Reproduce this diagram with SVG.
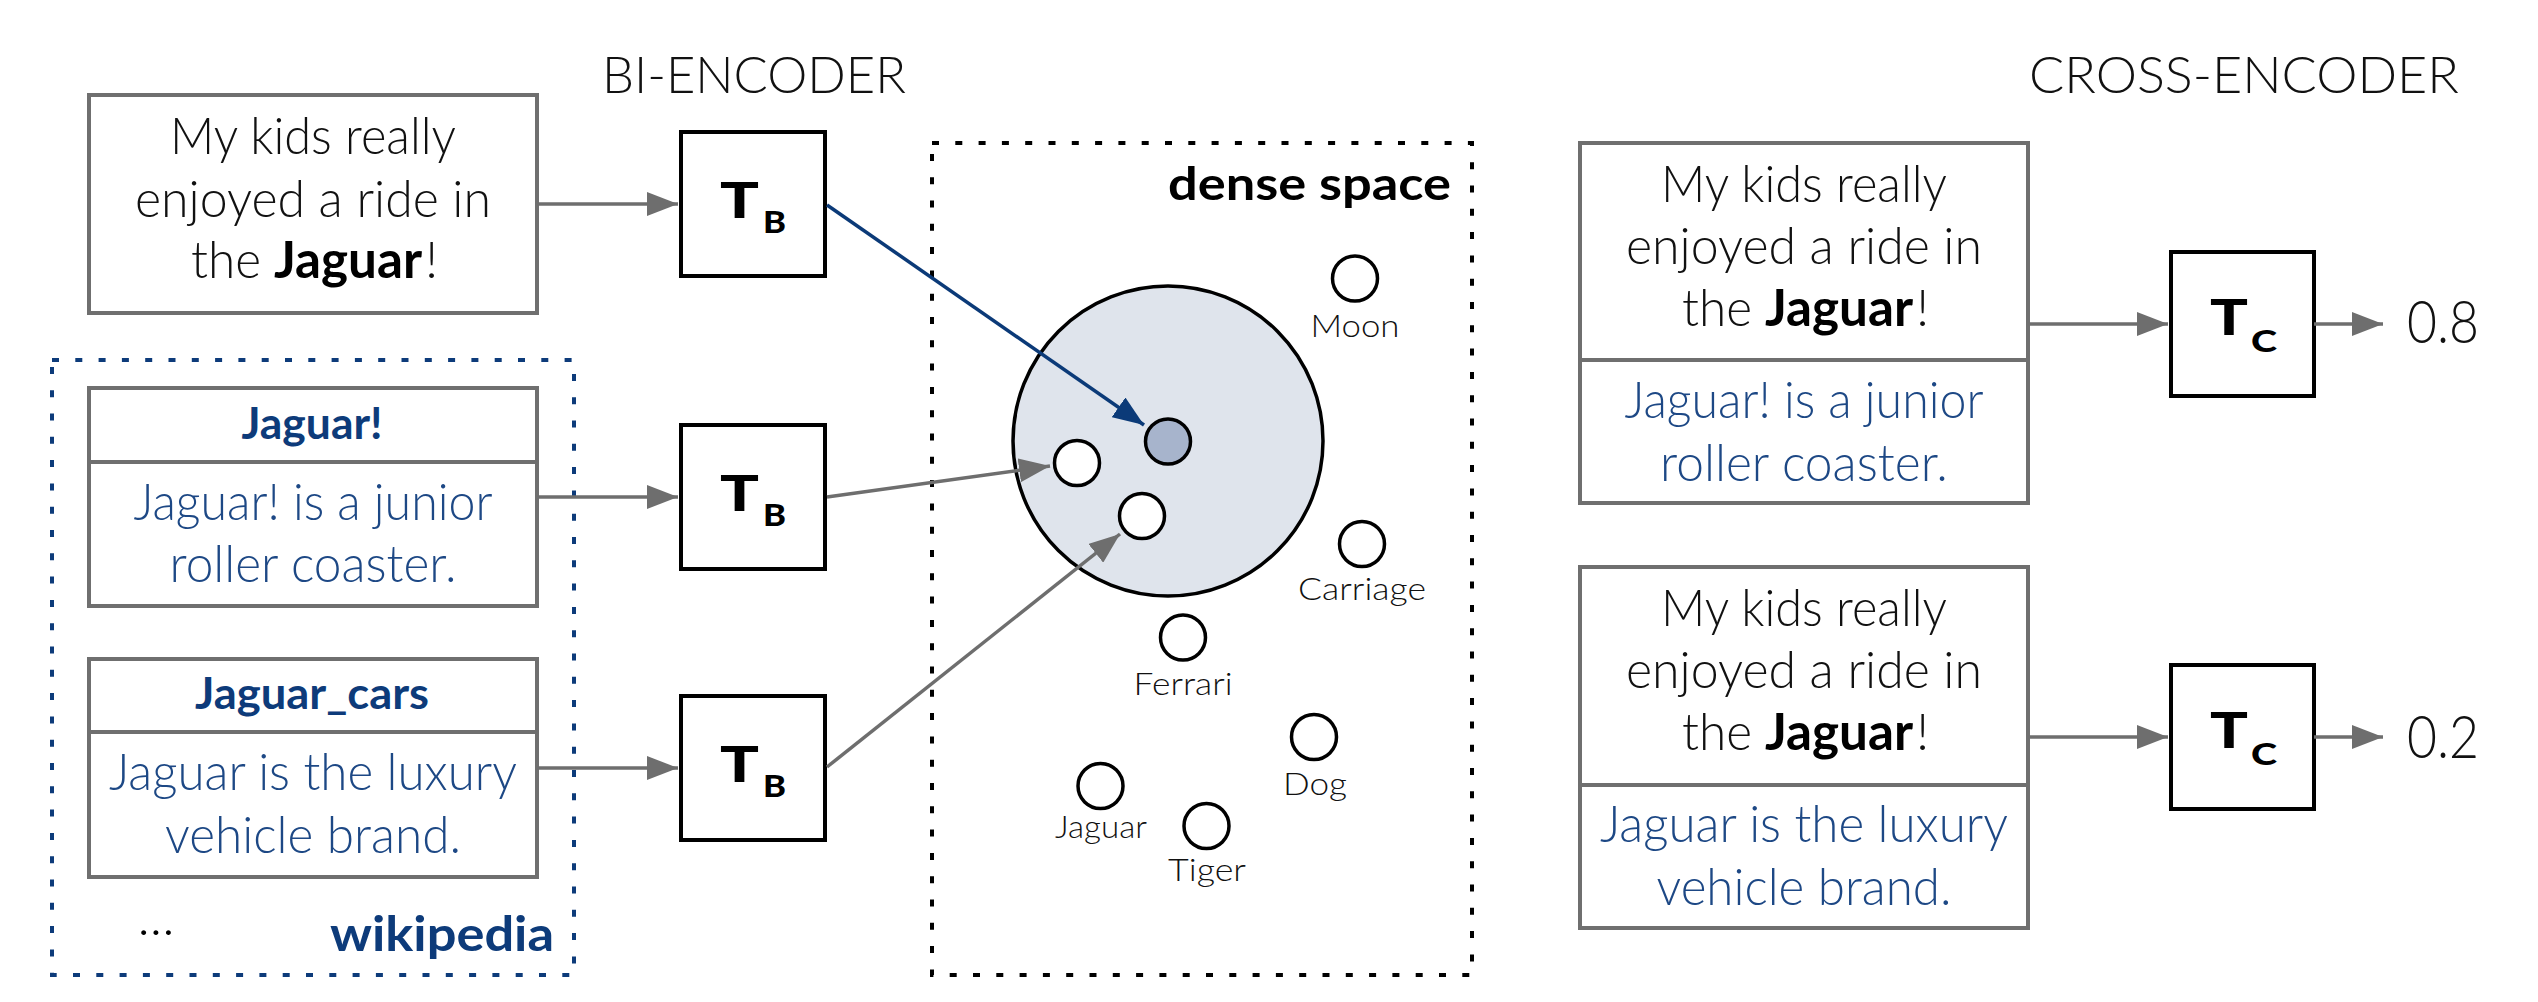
<svg xmlns="http://www.w3.org/2000/svg" width="2538" height="1002" viewBox="0 0 2538 1002">
<style>
.t{font-family:Lato,"Liberation Sans",sans-serif;font-weight:300;font-size:52px;fill:#111;text-anchor:middle}
.s{text-anchor:start}
.blue{fill:#1d4885}
.b{font-weight:700;fill:#000}
.bb{font-family:Lato,"Liberation Sans",sans-serif;font-weight:700;fill:#0d3b7a;text-anchor:middle}
.lbl{font-family:Lato,"Liberation Sans",sans-serif;font-weight:300;font-size:32px;fill:#111;text-anchor:middle}
.box{fill:#fff;stroke:#6f6f6f;stroke-width:4}
.enc{fill:#fff;stroke:#000;stroke-width:4}
.T{font-family:Lato,"Liberation Sans",sans-serif;font-weight:900;fill:#000}
.pt{fill:#fff;stroke:#000;stroke-width:3.5}
.arr{fill:none;stroke:#6e6e6e;stroke-width:3.5}
.arrb{fill:none;stroke:#0b3a78;stroke-width:3.5}
</style>
<defs>
<marker id="ag" viewBox="0 0 31 24" refX="31" refY="12" markerWidth="31" markerHeight="24" markerUnits="userSpaceOnUse" orient="auto"><path d="M0,0 L31,12 L0,24 z" fill="#6e6e6e"/></marker>
<marker id="ab" viewBox="0 0 31 24" refX="31" refY="12" markerWidth="31" markerHeight="24" markerUnits="userSpaceOnUse" orient="auto"><path d="M0,0 L31,12 L0,24 z" fill="#0b3a78"/></marker>
</defs>
<rect width="2538" height="1002" fill="#fff"/>

<g id="titles">
<text class="t" x="754" y="93" textLength="304" lengthAdjust="spacingAndGlyphs">BI-ENCODER</text>
<text class="t" x="2244" y="93" textLength="430" lengthAdjust="spacingAndGlyphs">CROSS-ENCODER</text>
</g>

<g id="wikipedia">
<rect x="52" y="360" width="522" height="615" fill="none" stroke="#0d3b7a" stroke-width="4" stroke-dasharray="7 16.3"/>
<text class="t" x="156" y="935" textLength="37" lengthAdjust="spacingAndGlyphs" style="fill:#000">...</text>
<text class="bb" x="442" y="951" font-size="48" textLength="224" lengthAdjust="spacingAndGlyphs">wikipedia</text>
</g>

<g id="query-bi">
<rect class="box" x="89" y="95" width="448" height="218"/>
<text class="t" x="313" y="154" textLength="286" lengthAdjust="spacingAndGlyphs">My kids really</text>
<text class="t" x="313" y="217" textLength="356" lengthAdjust="spacingAndGlyphs">enjoyed a ride in</text>
<text class="t s" y="278"><tspan x="191" textLength="70" lengthAdjust="spacingAndGlyphs">the</tspan><tspan class="b" x="274" textLength="148" lengthAdjust="spacingAndGlyphs">Jaguar</tspan><tspan x="425">!</tspan></text>
</g>

<g id="doc-jaguar-coaster">
<rect class="box" x="89" y="388" width="448" height="218"/>
<line x1="89" y1="462" x2="537" y2="462" stroke="#6f6f6f" stroke-width="4"/>
<text class="bb" x="312" y="439" font-size="44" textLength="141" lengthAdjust="spacingAndGlyphs">Jaguar!</text>
<text class="t blue" x="313" y="520" textLength="359" lengthAdjust="spacingAndGlyphs">Jaguar! is a junior</text>
<text class="t blue" x="313" y="582" textLength="287" lengthAdjust="spacingAndGlyphs">roller coaster.</text>
</g>

<g id="doc-jaguar-cars">
<rect class="box" x="89" y="659" width="448" height="218"/>
<line x1="89" y1="732" x2="537" y2="732" stroke="#6f6f6f" stroke-width="4"/>
<text class="bb" x="312" y="709" font-size="44" textLength="234" lengthAdjust="spacingAndGlyphs">Jaguar_cars</text>
<text class="t blue" x="313" y="790" textLength="408" lengthAdjust="spacingAndGlyphs">Jaguar is the luxury</text>
<text class="t blue" x="313" y="853" textLength="296" lengthAdjust="spacingAndGlyphs">vehicle brand.</text>
</g>

<g id="tb1">
<rect class="enc" x="681" y="132" width="144" height="144"/>
<text class="T" x="720" y="218" font-size="50" textLength="39" lengthAdjust="spacingAndGlyphs">T</text>
<text class="T" x="763" y="233" font-size="31" textLength="23" lengthAdjust="spacingAndGlyphs">B</text>
</g>
<g id="tb2">
<rect class="enc" x="681" y="425" width="144" height="144"/>
<text class="T" x="720" y="511" font-size="50" textLength="39" lengthAdjust="spacingAndGlyphs">T</text>
<text class="T" x="763" y="526" font-size="31" textLength="23" lengthAdjust="spacingAndGlyphs">B</text>
</g>
<g id="tb3">
<rect class="enc" x="681" y="696" width="144" height="144"/>
<text class="T" x="720" y="782" font-size="50" textLength="39" lengthAdjust="spacingAndGlyphs">T</text>
<text class="T" x="763" y="797" font-size="31" textLength="23" lengthAdjust="spacingAndGlyphs">B</text>
</g>

<g id="dense-space">
<rect x="932" y="143" width="540" height="832" fill="none" stroke="#000" stroke-width="4" stroke-dasharray="7 16.3"/>
<text class="bb" x="1451" y="200" font-size="46" textLength="283" lengthAdjust="spacingAndGlyphs" style="fill:#000;text-anchor:end">dense space</text>
<circle cx="1168" cy="441" r="155" fill="#dfe4ec" stroke="#000" stroke-width="3.5"/>
<circle cx="1168" cy="441.5" r="22.5" fill="#a7b4cc" stroke="#000" stroke-width="3.5"/>
<circle class="pt" cx="1077" cy="463" r="22.5"/>
<circle class="pt" cx="1142" cy="516" r="22.5"/>
</g>

<g id="pt-moon"><circle class="pt" cx="1355" cy="278.5" r="22.5"/><text class="lbl" x="1355" y="337" textLength="89" lengthAdjust="spacingAndGlyphs">Moon</text></g>
<g id="pt-carriage"><circle class="pt" cx="1362" cy="544" r="22.5"/><text class="lbl" x="1362" y="600" textLength="128" lengthAdjust="spacingAndGlyphs">Carriage</text></g>
<g id="pt-ferrari"><circle class="pt" cx="1183" cy="637.5" r="22.5"/><text class="lbl" x="1183" y="695" textLength="99" lengthAdjust="spacingAndGlyphs">Ferrari</text></g>
<g id="pt-dog"><circle class="pt" cx="1314" cy="737" r="22.5"/><text class="lbl" x="1315" y="795" textLength="64" lengthAdjust="spacingAndGlyphs">Dog</text></g>
<g id="pt-jaguar"><circle class="pt" cx="1100.5" cy="786" r="22.5"/><text class="lbl" x="1101" y="838" textLength="92" lengthAdjust="spacingAndGlyphs">Jaguar</text></g>
<g id="pt-tiger"><circle class="pt" cx="1206.5" cy="826" r="22.5"/><text class="lbl" x="1207" y="881" textLength="78" lengthAdjust="spacingAndGlyphs">Tiger</text></g>

<g id="cross-pair1">
<rect class="box" x="1580" y="143" width="448" height="360"/>
<line x1="1580" y1="360" x2="2028" y2="360" stroke="#6f6f6f" stroke-width="4"/>
<text class="t" x="1804" y="202" textLength="286" lengthAdjust="spacingAndGlyphs">My kids really</text>
<text class="t" x="1804" y="264" textLength="356" lengthAdjust="spacingAndGlyphs">enjoyed a ride in</text>
<text class="t s" y="326"><tspan x="1682" textLength="70" lengthAdjust="spacingAndGlyphs">the</tspan><tspan class="b" x="1765" textLength="148" lengthAdjust="spacingAndGlyphs">Jaguar</tspan><tspan x="1916">!</tspan></text>
<text class="t blue" x="1804" y="418" textLength="359" lengthAdjust="spacingAndGlyphs">Jaguar! is a junior</text>
<text class="t blue" x="1804" y="481" textLength="288" lengthAdjust="spacingAndGlyphs">roller coaster.</text>
</g>
<g id="cross-pair2">
<rect class="box" x="1580" y="567" width="448" height="361"/>
<line x1="1580" y1="785" x2="2028" y2="785" stroke="#6f6f6f" stroke-width="4"/>
<text class="t" x="1804" y="626" textLength="286" lengthAdjust="spacingAndGlyphs">My kids really</text>
<text class="t" x="1804" y="688" textLength="356" lengthAdjust="spacingAndGlyphs">enjoyed a ride in</text>
<text class="t s" y="750"><tspan x="1682" textLength="70" lengthAdjust="spacingAndGlyphs">the</tspan><tspan class="b" x="1765" textLength="148" lengthAdjust="spacingAndGlyphs">Jaguar</tspan><tspan x="1916">!</tspan></text>
<text class="t blue" x="1804" y="842" textLength="408" lengthAdjust="spacingAndGlyphs">Jaguar is the luxury</text>
<text class="t blue" x="1804" y="905" textLength="295" lengthAdjust="spacingAndGlyphs">vehicle brand.</text>
</g>

<g id="tc1">
<rect class="enc" x="2171" y="252" width="143" height="144"/>
<text class="T" x="2210" y="335" font-size="50" textLength="38" lengthAdjust="spacingAndGlyphs">T</text>
<text class="T" x="2251" y="352" font-size="31" textLength="26" lengthAdjust="spacingAndGlyphs">C</text>
</g>
<g id="tc2">
<rect class="enc" x="2171" y="665" width="143" height="144"/>
<text class="T" x="2210" y="748" font-size="50" textLength="38" lengthAdjust="spacingAndGlyphs">T</text>
<text class="T" x="2251" y="765" font-size="31" textLength="26" lengthAdjust="spacingAndGlyphs">C</text>
</g>

<g id="scores">
<text class="t s" x="2407" y="343" textLength="72" lengthAdjust="spacingAndGlyphs" style="font-size:60px">0.8</text>
<text class="t s" x="2407" y="758" textLength="72" lengthAdjust="spacingAndGlyphs" style="font-size:60px">0.2</text>
</g>

<g id="connectors">
<line class="arr" x1="537" y1="204" x2="678" y2="204" marker-end="url(#ag)"/>
<line class="arr" x1="537" y1="497" x2="678" y2="497" marker-end="url(#ag)"/>
<line class="arr" x1="537" y1="768" x2="678" y2="768" marker-end="url(#ag)"/>
<line class="arrb" x1="827" y1="205" x2="1144" y2="425" marker-end="url(#ab)"/>
<line class="arr" x1="827" y1="497" x2="1050" y2="466" marker-end="url(#ag)"/>
<line class="arr" x1="827" y1="767" x2="1120" y2="534" marker-end="url(#ag)"/>
<line class="arr" x1="2028" y1="324" x2="2168" y2="324" marker-end="url(#ag)"/>
<line class="arr" x1="2314" y1="324" x2="2383" y2="324" marker-end="url(#ag)"/>
<line class="arr" x1="2028" y1="737" x2="2168" y2="737" marker-end="url(#ag)"/>
<line class="arr" x1="2314" y1="737" x2="2383" y2="737" marker-end="url(#ag)"/>
</g>
</svg>
